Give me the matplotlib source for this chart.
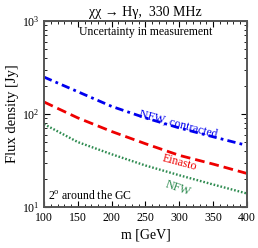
import numpy as np
import matplotlib
matplotlib.use('Agg')
import matplotlib.pyplot as plt

plt.rcParams['font.family'] = ['Liberation Serif', 'DejaVu Serif']
plt.rcParams['mathtext.fontset'] = 'custom'
plt.rcParams['mathtext.rm'] = 'Liberation Serif'
plt.rcParams['mathtext.it'] = 'Liberation Serif:italic'

# data
mass = [100, 150, 200, 250, 300, 350, 400]
nfw_contracted = [250, 174, 121, 91, 71, 57, 46]
einasto = [135, 91, 65, 48, 36, 29, 23]
nfw = [78, 50, 37, 28, 22, 17.5, 14]

fig = plt.figure(figsize=(2.58, 2.48), dpi=100)
ax = fig.add_axes([0.1705, 0.165, 0.7865, 0.75])

ax.plot(mass, nfw_contracted, color='#0000ee', lw=2, dashes=(3, 1.5, 1, 1.5))
ax.plot(mass, einasto, color='#ee0000', lw=2, dashes=(3.5, 1.8))
ax.plot(mass, nfw, color='#2e8b50', lw=1.7, dashes=(0.7, 0.8))

ax.set_yscale('log')
ax.set_xlim(100, 400)
ax.set_ylim(10, 1000)
ax.set_xticks([100, 150, 200, 250, 300, 350, 400])
ax.xaxis.set_minor_locator(matplotlib.ticker.MultipleLocator(10))
ax.tick_params(which='both', direction='in', top=True, right=True, labelsize=8.5)
ax.tick_params(which='major', length=4, width=0.8)
ax.tick_params(which='minor', length=2, width=0.6)
for s in ax.spines.values():
    s.set_linewidth(1.4)
    s.set_color('#555555')

ax.set_xlabel('m [GeV]', fontsize=10, labelpad=3)
ax.set_ylabel('Flux density [Jy]', fontsize=10.5, labelpad=2)
ax.set_title('χχ → Hγ,  330 MHz', fontsize=10, pad=4)

ax.text(0.5, 0.94, 'Uncertainty in measurement', transform=ax.transAxes,
        ha='center', va='center', fontsize=8.5)
ax.text(0.02, 0.06, r'2$^{\rm o}$ around the GC', transform=ax.transAxes,
        ha='left', va='center', fontsize=8.5)

ax.text(298, 78, 'NFW, contracted', color='#0000ee', fontsize=8.5,
        rotation=-15, ha='center', va='center')
ax.text(301, 29.7, 'Einasto', color='#ee0000', fontsize=8.5,
        rotation=-15, ha='center', va='center')
ax.text(298, 16, 'NFW', color='#2e8b50', fontsize=8.5,
        rotation=-19, ha='center', va='center')

fig.savefig('out.png', dpi=100)
